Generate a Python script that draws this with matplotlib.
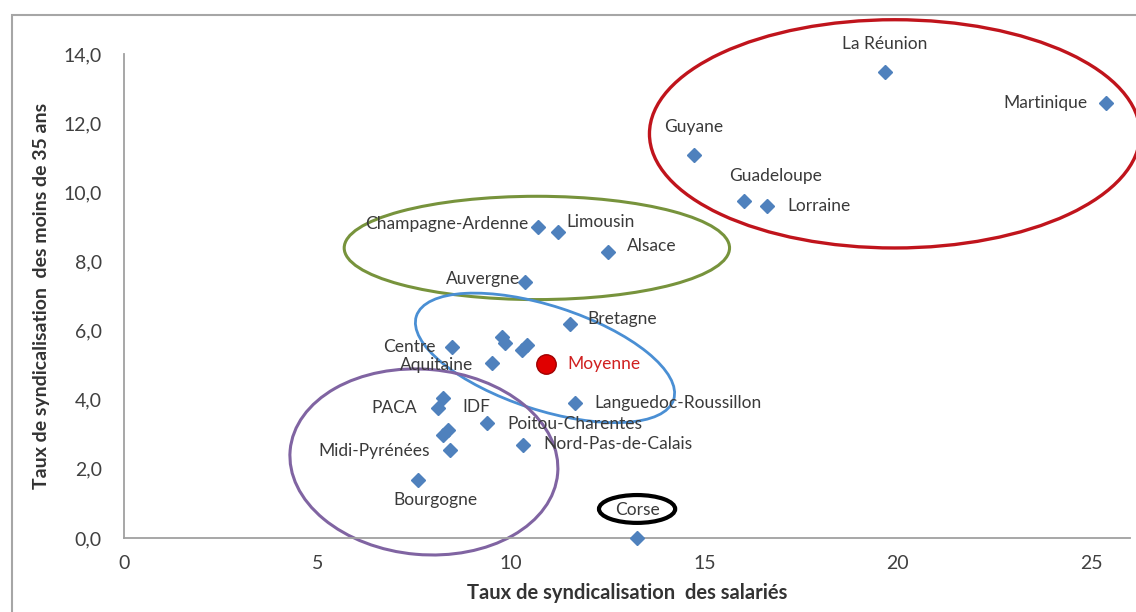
import matplotlib
matplotlib.use("Agg")
import matplotlib.pyplot as plt
from matplotlib.patches import Ellipse, Rectangle
from matplotlib.ticker import FuncFormatter, MultipleLocator
import matplotlib.transforms as mtransforms

plt.rcParams['font.family'] = ['Lato', 'DejaVu Sans']

# regions: taux de syndicalisation des salariés (x) / des moins de 35 ans (y)
regions = ["La Réunion", "Martinique", "Guyane", "Guadeloupe", "Lorraine",
           "Champagne-Ardenne", "Limousin", "Alsace", "Auvergne", "Bretagne",
           "Centre", "", "", "", "", "Aquitaine", "Languedoc-Roussillon",
           "PACA", "IDF", "", "", "Midi-Pyrénées", "Poitou-Charentes",
           "Nord-Pas-de-Calais", "Bourgogne", "Corse"]
taux_salaries = [19.66, 25.37, 14.73, 16.02, 16.62,
                 10.70, 11.21, 12.51, 10.36, 11.52,
                 8.48, 9.77, 9.84, 10.41, 10.28, 9.51, 11.65,
                 8.11, 8.24, 8.37, 8.24, 8.42, 9.38,
                 10.31, 7.60, 13.26]
taux_moins35 = [13.48, 12.58, 11.08, 9.75, 9.60,
                8.99, 8.85, 8.27, 7.41, 6.19,
                5.53, 5.81, 5.64, 5.58, 5.44, 5.06, 3.91,
                3.76, 4.05, 3.12, 2.98, 2.55, 3.33,
                2.69, 1.68, 0.0]
moyenne_x = 10.90
moyenne_y = 5.03

# label placement (offset in pixels, alignment)
label_pos = {
    "La Réunion": (0, 28, "center"),
    "Martinique": (-18, 0, "right"),
    "Guyane": (0, 28, "center"),
    "Guadeloupe": (32, 25, "center"),
    "Lorraine": (20, 0, "left"),
    "Champagne-Ardenne": (-10, 3, "right"),
    "Limousin": (9, 10, "left"),
    "Alsace": (19, 6, "left"),
    "Auvergne": (-5, 3, "right"),
    "Bretagne": (18, 5, "left"),
    "Centre": (-17, 0, "right"),
    "Aquitaine": (-19, -2, "right"),
    "Languedoc-Roussillon": (20, 0, "left"),
    "PACA": (-21, 0, "right"),
    "IDF": (20, -9, "left"),
    "Poitou-Charentes": (20, -1, "left"),
    "Midi-Pyrénées": (-20, -1, "right"),
    "Nord-Pas-de-Calais": (20, 1, "left"),
    "Bourgogne": (17, -20, "center"),
    "Corse": (0, 28, "center"),
}

fig = plt.figure(figsize=(11.36, 6.12), dpi=100)
ax = fig.add_axes([0.1092, 0.1209, 0.8855, 0.7909])

# outer chart frame
fig.patches.append(Rectangle((0.0106, -0.1), 1.2, 1.0755, transform=fig.transFigure,
                             fill=False, edgecolor="#A6A6A6", lw=1.5))

ax.plot(taux_salaries, taux_moins35, linestyle="none", marker="D",
        markersize=7.5, color="#4F81BD", zorder=3, clip_on=False)
ax.plot([moyenne_x], [moyenne_y], linestyle="none", marker="o", markersize=14,
        color="#E00000", markeredgecolor="#A00000", zorder=4)

text_col = "#3A3A3A"
for name, x, y in zip(regions, taux_salaries, taux_moins35):
    if not name:
        continue
    dx, dy, ha = label_pos[name]
    ax.annotate(name, (x, y), xytext=(dx, dy), textcoords="offset pixels",
                ha=ha, va="center", fontsize=12.5, color=text_col, zorder=5)
ax.annotate("Moyenne", (moyenne_x, moyenne_y), xytext=(22, 0),
            textcoords="offset pixels", ha="left", va="center",
            fontsize=12.5, color="#D02020", zorder=5)

ax.set_xlim(0, 26)
ax.set_ylim(0, 14)
ax.xaxis.set_major_locator(MultipleLocator(5))
ax.yaxis.set_major_locator(MultipleLocator(2))
ax.yaxis.set_major_formatter(FuncFormatter(lambda v, p: f"{v:.1f}".replace(".", ",")))

for s in ["top", "right"]:
    ax.spines[s].set_visible(False)
for s in ["left", "bottom"]:
    ax.spines[s].set_color("#A0A0A0")
    ax.spines[s].set_linewidth(1.3)
ax.tick_params(length=0, labelsize=14, labelcolor="#404040")
ax.tick_params(axis="y", pad=16)
ax.tick_params(axis="x", pad=12)

ax.set_xlabel("Taux de syndicalisation  des salariés", fontsize=14.5,
              fontweight="bold", color="#333333", labelpad=8)
ax.set_ylabel("Taux de syndicalisation  des moins de 35 ans", fontsize=14,
              fontweight="bold", color="#333333", labelpad=10)

# group ellipses drawn in screen-like proportions (sizes in x-units)
fig.canvas.draw()
bbox = ax.get_window_extent()
sx = bbox.width / 26
sy = bbox.height / 14
ratio = sx / sy

ellipses = [
    ((19.92, 11.69), 12.68, 5.90, 0, "#C0141C", 2.4),
    ((10.67, 8.39), 9.96, 2.67, 0, "#77933C", 2.2),
    ((10.88, 5.21), 6.99, 2.69, -18, "#4A8FD4", 2.0),
    ((7.75, 2.20), 6.94, 4.79, -5, "#8064A2", 2.2),
    ((13.26, 0.84), 1.97, 0.72, 0, "#000000", 3.0),
]
for (cx, cy), w, h, ang, col, lw in ellipses:
    tr = mtransforms.Affine2D().scale(1, ratio).translate(cx, cy) + ax.transData
    e = Ellipse((0, 0), w, h, angle=ang, fill=False, edgecolor=col, lw=lw,
                transform=tr, clip_on=False, zorder=2)
    ax.add_patch(e)

fig.savefig("out.png", dpi=100)
